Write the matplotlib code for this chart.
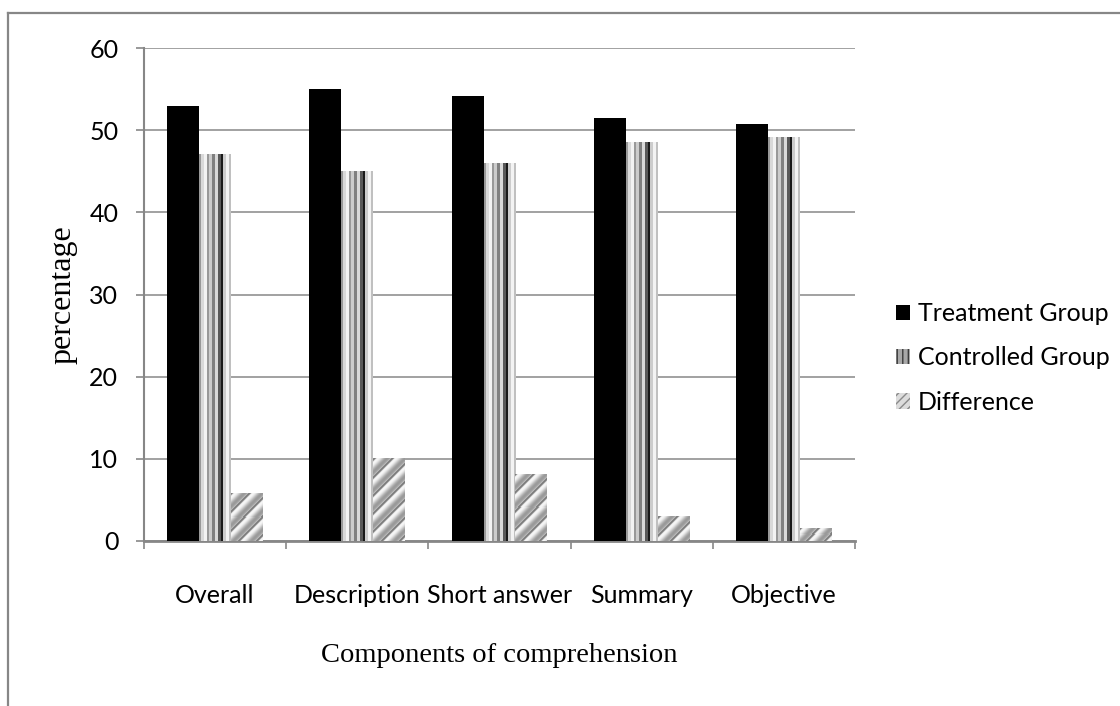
import numpy as np
import matplotlib
matplotlib.use("Agg")
import matplotlib.pyplot as plt
from matplotlib.patches import Patch
from matplotlib.lines import Line2D

# data
categories = ["Overall", "Description", "Short answer", "Summary", "Objective"]
treatment = [53.0, 55.0, 54.1, 51.5, 50.8]
controlled = [47.1, 45.0, 46.0, 48.5, 49.2]
difference = [5.9, 10.1, 8.2, 3.0, 1.6]
series_names = ["Treatment Group", "Controlled Group", "Difference"]
yticks = [0, 10, 20, 30, 40, 50, 60]

sans = ["Lato", "DejaVu Sans"]
serif = ["Liberation Serif", "DejaVu Serif"]
grey = "#878787"

W, H = 1120, 706
fig = plt.figure(figsize=(W / 100, H / 100), dpi=100)
ax = fig.add_axes([144 / W, 1 - 541 / H, 711 / W, 493 / H])

# outer chart frame (only top and left edges visible)
fig.add_artist(Line2D([8 / W, 1.0], [1 - 13 / H, 1 - 13 / H], color=grey, lw=1.6))
fig.add_artist(Line2D([8 / W, 8 / W], [0.0, 1 - 13 / H], color=grey, lw=1.6))

x = np.arange(len(categories))
bw = 0.225
bars_t = ax.bar(x - bw, treatment, bw, color="black", zorder=3)
bars_c = ax.bar(x, controlled, bw, color="#bdbdbd", zorder=3)
bars_d = ax.bar(x + bw, difference, bw, color="#cfcfcf", zorder=3)

ax.set_xlim(-0.5, len(categories) - 0.5)
ax.set_ylim(0, 60)

# textures clipped to the bars
stripe = np.array([0.6, 0.6, 0.85, 0.85, 0.85, 0.95, 0.95, 0.95, 0.6, 0.6,
                   0.8, 0.8, 0.8, 0.5, 0.5, 0.5, 0.85, 0.85, 0.85, 0.35,
                   0.35, 0.35, 0.1, 0.1, 0.8, 0.8, 0.8, 0.95, 0.95, 0.95,
                   0.75, 0.75])


def texture(bar, tex):
    x0, y0 = bar.get_x(), bar.get_y()
    im = ax.imshow(tex, cmap="gray", vmin=0, vmax=1, aspect="auto",
                   interpolation="nearest", zorder=3.5,
                   extent=[x0, x0 + bar.get_width(), y0, y0 + bar.get_height()])
    im.set_clip_path(bar)


for b in bars_c:
    texture(b, stripe[np.newaxis, :])

for b in bars_d:
    p0 = ax.transData.transform((b.get_x(), 0))
    p1 = ax.transData.transform((b.get_x() + b.get_width(), b.get_height()))
    pw = max(int(round(p1[0] - p0[0])), 2)
    ph = max(int(round(p1[1] - p0[1])), 2)
    rr, cc = np.mgrid[0:ph, 0:pw]
    ph_ = 2 * np.pi * (cc + rr) / 18.0
    tex = 0.78 + 0.18 * np.sin(ph_) - 0.35 * np.clip(np.sin(ph_ + 1.2) - 0.75, 0, None) * 4
    texture(b, np.clip(tex, 0, 1))

ax.set_xlim(-0.5, len(categories) - 0.5)
ax.set_ylim(0, 60)

# axes styling
ax.set_yticks(yticks)
ax.tick_params(axis="y", direction="out", length=5.5, width=1.2, color=grey,
               pad=13, labelsize=18)
ax.set_xticks(x)
ax.set_xticklabels(categories)
ax.set_xticks(np.arange(len(categories) + 1) - 0.5, minor=True)
ax.tick_params(axis="x", which="major", length=0, pad=31, labelsize=18)
ax.tick_params(axis="x", which="minor", direction="out", length=5.5, width=1.2, color=grey)
for lab in ax.get_xticklabels() + ax.get_yticklabels():
    lab.set_family(sans)

ax.yaxis.grid(True, color=grey, lw=1.1, zorder=0)
ax.set_axisbelow(True)
for s in ["top", "right"]:
    ax.spines[s].set_visible(False)
ax.spines["left"].set_color(grey)
ax.spines["left"].set_linewidth(1.5)
ax.spines["bottom"].set_color(grey)
ax.spines["bottom"].set_linewidth(2.0)

fig.text(63 / W, 1 - 295 / H, "percentage", rotation=90, ha="center", va="center",
         family=serif, fontsize=23)
fig.text(499 / W, 1 - 656 / H, "Components of comprehension", ha="center", va="center",
         family=serif, fontsize=20.5)

handles = [
    Patch(facecolor="black", edgecolor="none"),
    Patch(facecolor="#a8a8a8", edgecolor="#3c3c3c", hatch="|||", lw=0),
    Patch(facecolor="#dcdcdc", edgecolor="#8a8a8a", hatch="////", lw=0),
]
fig.legend(handles, series_names, loc="center left",
           bbox_to_anchor=(896 / W, 1 - 358 / H), frameon=False,
           prop={"family": sans, "size": 18}, handlelength=0.56, handleheight=0.56,
           handletextpad=0.3, labelspacing=0.85, borderpad=0, borderaxespad=0)

fig.savefig("out.png", dpi=100)
